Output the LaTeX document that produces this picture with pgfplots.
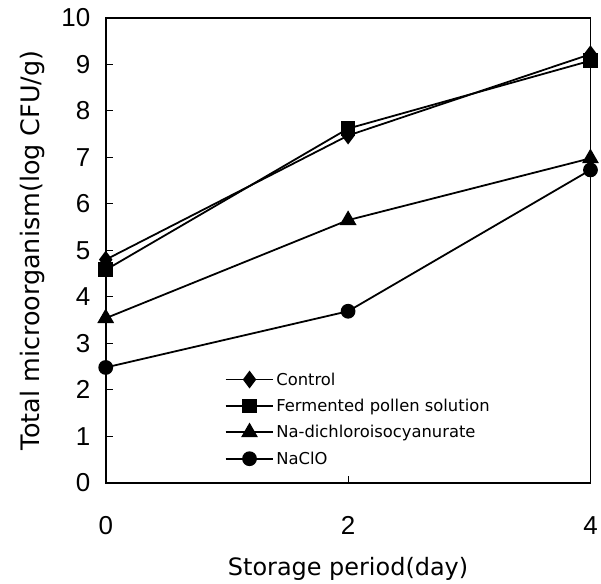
\documentclass[border=0pt]{standalone}
\usepackage{pgfplots}
\pgfplotsset{compat=1.18}
\usepackage{fontspec}
\setmainfont{DejaVu Sans}
\newfontfamily\tickfont{Liberation Sans}

\begin{document}
\begin{tikzpicture}
\begin{axis}[
  name=main,
  scale only axis,
  width=486pt, height=466pt,
  xmin=0, xmax=4, ymin=0, ymax=10,
  xtick={0,2,4}, ytick={0,1,...,10},
  tick align=inside, xtick pos=bottom, ytick pos=left,
  major tick length=7pt,
  axis line style={line width=1.6pt},
  tick style={line width=1pt, black},
  /pgf/number format/assume math mode=true,
  ticklabel style={font=\tickfont\fontsize{26}{30}\selectfont},
  xticklabel style={yshift=-30pt},
  yticklabel style={xshift=-12pt},
  xlabel={Storage period(day)},
  ylabel={Total microorganism(log CFU/g)},
  xlabel style={font=\fontsize{24}{28}\selectfont, yshift=-16pt},
  ylabel style={font=\fontsize{25.5}{29}\selectfont, yshift=10pt},
  legend style={draw=none, fill=none, at={(0.245,0.032)}, anchor=south west,
    font=\fontsize{16.4}{19}\selectfont, row sep=8.5pt,
    inner sep=0pt, cells={anchor=west, xshift=4pt}},
  legend image code/.code={%
    \draw[mark repeat=2, mark phase=2, #1] plot coordinates {(0pt,0pt) (24pt,0pt) (48pt,0pt)};},
  clip=false,
]
\addplot[black, line width=1.8pt, mark=diamond*, mark size=7.5pt, mark options={solid, fill=black}]
  coordinates {(0,4.8) (2,7.47) (4,9.22)};
\addlegendentry{Control}
\addplot[black, line width=1.8pt, mark=square*, mark size=6.5pt, mark options={solid, fill=black}]
  coordinates {(0,4.58) (2,7.62) (4,9.08)};
\addlegendentry{Fermented pollen solution}
\addplot[black, line width=1.8pt, mark=triangle*, mark size=8pt, mark options={solid, fill=black}]
  coordinates {(0,3.54) (2,5.65) (4,6.98)};
\addlegendentry{Na-dichloroisocyanurate}
\addplot[black, line width=1.8pt, mark=*, mark size=6.5pt, mark options={solid, fill=black}]
  coordinates {(0,2.48) (2,3.69) (4,6.73)};
\addlegendentry{NaClO}
\end{axis}
% page margins around the plot area
\path ([shift={(-106pt,-97pt)}]main.south west) rectangle ([shift={(9pt,18pt)}]main.north east);
\end{tikzpicture}
\end{document}
